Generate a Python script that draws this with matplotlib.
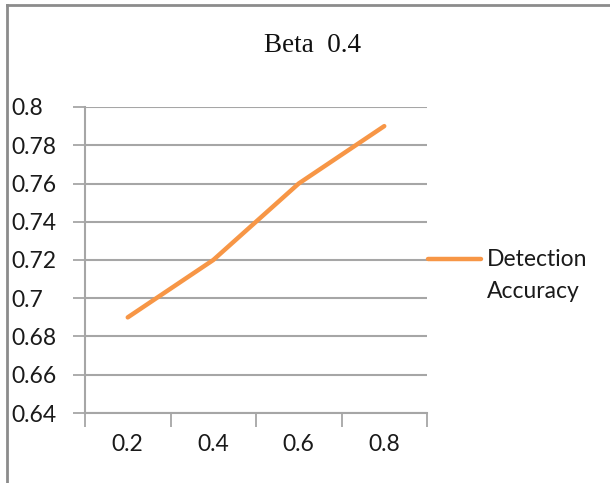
import numpy as np
import matplotlib
matplotlib.use('Agg')
import matplotlib.pyplot as plt
from matplotlib.lines import Line2D
from matplotlib.ticker import FixedLocator

betas = ['0.2', '0.4', '0.6', '0.8']
accuracy = [0.69, 0.72, 0.76, 0.79]
series_name = 'Detection\nAccuracy'
yticks = [0.64, 0.66, 0.68, 0.70, 0.72, 0.74, 0.76, 0.78, 0.80]
ytick_labels = ['0.64', '0.66', '0.68', '0.7', '0.72', '0.74', '0.76', '0.78', '0.8']

orange = '#F79646'
grid_gray = '#a6a6a6'
label_font = 'Lato'
fs = 16.5

fig = plt.figure(figsize=(6.1, 4.83), dpi=100)
ax = fig.add_axes([85/610, 1 - 413/483, 342/610, 306/483])

x = np.arange(len(betas))
ax.plot(x, accuracy, color=orange, lw=3.2, solid_capstyle='round', solid_joinstyle='round', zorder=3)

ax.set_xlim(-0.5, len(betas) - 0.5)
ax.set_ylim(yticks[0], yticks[-1])

# y labels are left aligned against the chart edge
ax.set_yticks(yticks)
ax.set_yticklabels(ytick_labels, fontsize=fs, family=label_font, color='#1a1a1a', ha='left')
ax.tick_params(axis='y', length=9, width=1.3, color=grid_gray, pad=44)
ax.yaxis.grid(True, color=grid_gray, lw=1.5)

ax.set_xticks(x)
ax.set_xticklabels(betas, fontsize=fs, family=label_font, color='#1a1a1a')
ax.tick_params(axis='x', which='major', length=0, pad=15)
ax.xaxis.set_minor_locator(FixedLocator(np.arange(-0.5, len(betas), 1.0)))
ax.tick_params(axis='x', which='minor', length=10, width=1.3, color=grid_gray)

for side in ['top', 'right']:
    ax.spines[side].set_visible(False)
for side in ['left', 'bottom']:
    ax.spines[side].set_color(grid_gray)
    ax.spines[side].set_linewidth(1.5)

fig.text(312/610, 1 - 45/483, 'Beta  0.4', ha='center', va='center',
         fontsize=19.5, family='Liberation Serif', color='#111111')

# legend swatch and label
fig.add_artist(Line2D([428/610, 481/610], [1 - 259/483, 1 - 259/483],
                      color=orange, lw=3.2, solid_capstyle='round'))
fig.text(487/610, 1 - 259/483, series_name.split('\n')[0], ha='left', va='center',
         fontsize=fs, family=label_font, color='#1a1a1a')
fig.text(487/610, 1 - 292/483, series_name.split('\n')[1], ha='left', va='center',
         fontsize=fs, family=label_font, color='#1a1a1a')

# chart frame edges
fig.add_artist(Line2D([7/610, 1], [1 - 5/483, 1 - 5/483], color='#8c8c8c', lw=2))
fig.add_artist(Line2D([7/610, 7/610], [0, 1 - 5/483], color='#8c8c8c', lw=2))

fig.savefig('out.png', dpi=100)
